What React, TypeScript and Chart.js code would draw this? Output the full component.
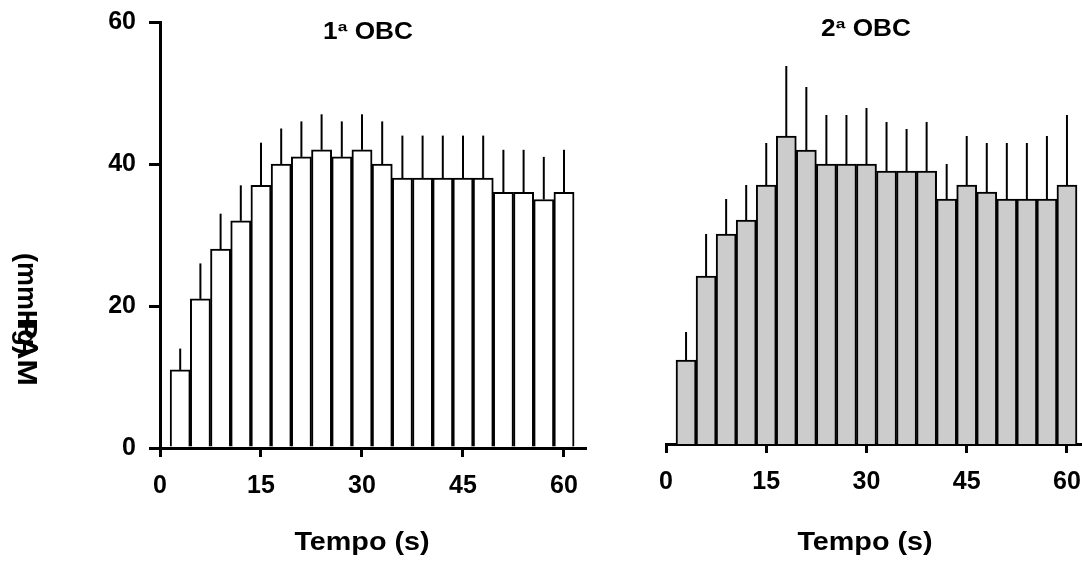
import React, { useEffect, useRef } from "react";
import { Chart, registerables } from "chart.js";

Chart.register(...registerables);

// ---- data ----
const timeS = [3, 6, 9, 12, 15, 18, 21, 24, 27, 30, 33, 36, 39, 42, 45, 48, 51, 54, 57, 60];
const pam1 = [11, 21, 28, 32, 37, 40, 41, 42, 41, 42, 40, 38, 38, 38, 38, 38, 36, 36, 35, 36];
const err1 = [3, 5, 5, 5, 6, 5, 5, 5, 5, 5, 6, 6, 6, 6, 6, 6, 6, 6, 6, 6];
const pam2 = [12, 24, 30, 32, 37, 44, 42, 40, 40, 40, 39, 39, 39, 35, 37, 36, 35, 35, 35, 37];
const err2 = [4, 6, 5, 5, 6, 10, 9, 7, 7, 8, 7, 6, 7, 5, 7, 7, 8, 8, 9, 10];
const xTicks = [0, 15, 30, 45, 60];
const yTicks = [0, 20, 40, 60];
const title1 = "1ª OBC";
const title2 = "2ª OBC";
const xTitle = "Tempo (s)";
const yTitleA = "(mmHg)";
const yTitleB = "PAM";

const FONT = "'Liberation Sans', Arial, Helvetica, sans-serif";

type TextItem = { text: string; x: number; y: number; size: number; sx?: number; rot?: number };

function errorBarPlugin(errs: number[]) {
  return {
    id: "errbars",
    afterDatasetsDraw(chart: any) {
      const meta = chart.getDatasetMeta(0);
      const xs = chart.scales.x;
      const ys = chart.scales.y;
      const ctx = chart.ctx;
      ctx.save();
      ctx.strokeStyle = "#000";
      ctx.lineWidth = 2;
      meta.data.forEach((_el: any, i: number) => {
        const d = chart.data.datasets[0].data[i];
        const x = xs.getPixelForValue(d.x);
        const y1 = ys.getPixelForValue(d.y);
        const y2 = ys.getPixelForValue(d.y + errs[i]);
        ctx.beginPath();
        ctx.moveTo(x, y1);
        ctx.lineTo(x, y2);
        ctx.stroke();
      });
      ctx.restore();
    },
  };
}

function textPlugin(items: TextItem[]) {
  return {
    id: "texts",
    afterDraw(chart: any) {
      const ctx = chart.ctx;
      items.forEach((it) => {
        ctx.save();
        ctx.fillStyle = "#000";
        ctx.font = `bold ${it.size}px ${FONT}`;
        ctx.textAlign = "center";
        ctx.textBaseline = "alphabetic";
        ctx.translate(it.x, it.y);
        if (it.rot) ctx.rotate(it.rot);
        ctx.scale(it.sx || 1, 1);
        ctx.fillText(it.text, 0, 0);
        ctx.restore();
      });
    },
  };
}

function makeConfig(opts: {
  values: number[];
  errs: number[];
  fill: string;
  xMax: number;
  showY: boolean;
  pad: { left: number; right: number; top: number; bottom: number };
  yWidth: number;
  xHeight: number;
  texts: TextItem[];
}) {
  const tickFont = { family: FONT, size: 25, weight: "bold" as const };
  return {
    type: "bar" as const,
    data: {
      datasets: [
        {
          data: timeS.map((t, i) => ({ x: t, y: opts.values[i] })),
          backgroundColor: opts.fill,
          borderColor: "#000",
          borderWidth: 2,
          borderSkipped: "start",
          barPercentage: 1,
          categoryPercentage: 1,
        },
      ],
    },
    options: {
      responsive: false,
      animation: false,
      layout: { padding: opts.pad },
      plugins: { legend: { display: false }, tooltip: { enabled: false }, title: { display: false } },
      scales: {
        x: {
          type: "linear",
          min: 0,
          max: opts.xMax,
          offset: false,
          grid: {
            offset: false,
            drawOnChartArea: false,
            drawTicks: true,
            tickLength: 9,
            lineWidth: 3,
            tickWidth: 3,
            color: "#000",
          },
          border: { display: true, width: 3, color: "#000" },
          ticks: {
            stepSize: 15,
            includeBounds: false,
            autoSkip: false,
            maxRotation: 0,
            padding: 14,
            color: "#000",
            font: tickFont,
          },
          afterBuildTicks: (s: any) => {
            s.ticks = xTicks.map((v) => ({ value: v }));
          },
          afterFit: (s: any) => {
            s.height = opts.xHeight;
            s.paddingLeft = 0;
            s.paddingRight = 0;
          },
        },
        y: {
          display: opts.showY,
          min: 0,
          max: 60,
          grid: {
            drawOnChartArea: false,
            drawTicks: true,
            tickLength: 11,
            lineWidth: 3,
            tickWidth: 3,
            color: "#000",
          },
          border: { display: true, width: 3, color: "#000" },
          ticks: {
            stepSize: 20,
            padding: 13,
            color: "#000",
            font: tickFont,
          },
          afterBuildTicks: (s: any) => {
            s.ticks = yTicks.map((v) => ({ value: v }));
          },
          afterFit: (s: any) => {
            s.width = opts.yWidth;
            s.paddingTop = 0;
            s.paddingBottom = 0;
          },
        },
      },
    },
    plugins: [errorBarPlugin(opts.errs), textPlugin(opts.texts)],
  };
}

export default function App() {
  const leftRef = useRef<HTMLCanvasElement | null>(null);
  const rightRef = useRef<HTMLCanvasElement | null>(null);

  useEffect(() => {
    const c1 = new Chart(
      leftRef.current as HTMLCanvasElement,
      makeConfig({
        values: pam1,
        errs: err1,
        fill: "#ffffff",
        xMax: 63.12,
        showY: true,
        pad: { left: 0, right: 15, top: 22, bottom: 0 },
        yWidth: 160,
        xHeight: 115,
        texts: [
          { text: title1, x: 368, y: 39, size: 23, sx: 1.14 },
          { text: xTitle, x: 362, y: 550, size: 25, sx: 1.15 },
          { text: yTitleA, x: 18, y: 304, size: 27 },
          { text: yTitleB, x: 18, y: 352, size: 27, sx: 1.17 },
        ].map((t, i) => (i >= 2 ? { ...t, rot: Math.PI / 2 } : t)),
      }) as any
    );
    const c2 = new Chart(
      rightRef.current as HTMLCanvasElement,
      makeConfig({
        values: pam2,
        errs: err2,
        fill: "#cccccc",
        xMax: 62.25,
        showY: false,
        pad: { left: 66, right: 0, top: 24, bottom: 0 },
        yWidth: 0,
        xHeight: 119,
        texts: [
          { text: title2, x: 266, y: 36, size: 23, sx: 1.14 },
          { text: xTitle, x: 265, y: 550, size: 25, sx: 1.15 },
        ],
      }) as any
    );
    return () => {
      c1.destroy();
      c2.destroy();
    };
  }, []);

  return (
    <div style={{ position: "fixed", left: 0, top: 0, width: 1082, height: 563, background: "#fff" }}>
      <canvas ref={leftRef} width={600} height={563} style={{ position: "absolute", left: 0, top: 0 }} />
      <canvas ref={rightRef} width={482} height={563} style={{ position: "absolute", left: 600, top: 0 }} />
    </div>
  );
}
